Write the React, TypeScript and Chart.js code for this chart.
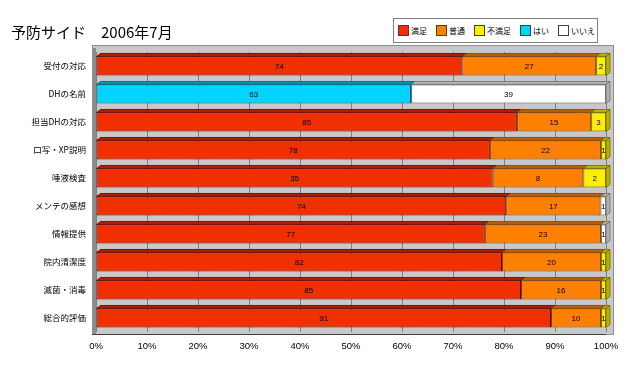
import React, { useEffect, useRef } from "react";
import { Chart, registerables } from "chart.js";

Chart.register(...registerables);

const categories = [
  "受付の対応",
  "DHの名前",
  "担当DHの対応",
  "口写・XP説明",
  "唾液検査",
  "メンテの感想",
  "情報提供",
  "院内清潔度",
  "滅菌・消毒",
  "総合的評価",
];

const seriesNames = ["満足", "普通", "不満足", "はい", "いいえ"];
const manzoku = [74, 0, 85, 78, 35, 74, 77, 82, 85, 91];
const futsuu = [27, 0, 15, 22, 8, 17, 23, 20, 16, 10];
const fumanzoku = [2, 0, 3, 1, 2, 0, 0, 1, 1, 1];
const hai = [0, 63, 0, 0, 0, 0, 0, 0, 0, 0];
const iie = [0, 39, 0, 0, 0, 1, 1, 0, 0, 0];
const xTicks = [0, 10, 20, 30, 40, 50, 60, 70, 80, 90, 100];

const seriesValues = [manzoku, futsuu, fumanzoku, hai, iie];
const frontColors = ["#f03000", "#ff8000", "#ffee00", "#00d4ff", "#ffffff"];
const topColors = ["#a82000", "#c05c00", "#b8b000", "#0090b0", "#b0b0b0"];
const edgeColors = ["#600000", "#804000", "#707000", "#006080", "#707070"];

const LABEL_FONT = "'Liberation Sans', 'Noto Sans CJK JP', sans-serif";
const CJK_FONT = "'Noto Sans CJK JP', 'Liberation Sans', sans-serif";

const DX = 4;
const DY = 3;

const depthPlugin = {
  id: "depth3d",
  beforeDraw(chart: any) {
    const { ctx, chartArea } = chart;
    const { left, right, top, bottom } = chartArea;
    ctx.save();
    ctx.fillStyle = "#c8c8c8";
    ctx.fillRect(left - 3, top - 6, right - left + DX + 7, bottom - top + 9);
    ctx.fillStyle = "#8c8c8c";
    ctx.fillRect(left - 4, top - 4, 4, bottom - top + 7);
    ctx.strokeStyle = "#909090";
    ctx.lineWidth = 1;
    ctx.strokeRect(left - 3.5, top - 6.5, right - left + DX + 7, bottom - top + 9);
    ctx.strokeStyle = "#404040";
    ctx.beginPath();
    ctx.moveTo(left - 4, bottom + 2.5);
    ctx.lineTo(right, bottom + 2.5);
    ctx.stroke();
    ctx.restore();
  },
  beforeDatasetsDraw(chart: any) {
    const { ctx } = chart;
    const metas = chart.data.datasets.map((_: any, i: number) => chart.getDatasetMeta(i));
    ctx.save();
    ctx.lineWidth = 0.8;
    for (let c = 0; c < categories.length; c++) {
      let last: any = null;
      let lastIdx = -1;
      metas.forEach((meta: any, d: number) => {
        const el = meta.data[c];
        if (!el || seriesValues[d][c] <= 0) return;
        const t = el.y - el.height / 2;
        const x0 = Math.min(el.base, el.x);
        const x1 = Math.max(el.base, el.x);
        ctx.fillStyle = topColors[d];
        ctx.strokeStyle = edgeColors[d];
        ctx.beginPath();
        ctx.moveTo(x0, t);
        ctx.lineTo(x0 + DX, t - DY);
        ctx.lineTo(x1 + DX, t - DY);
        ctx.lineTo(x1, t);
        ctx.closePath();
        ctx.fill();
        ctx.stroke();
        last = el;
        lastIdx = d;
      });
      if (last) {
        const t = last.y - last.height / 2;
        const b = last.y + last.height / 2;
        const x1 = Math.max(last.base, last.x);
        ctx.fillStyle = topColors[lastIdx];
        ctx.strokeStyle = edgeColors[lastIdx];
        ctx.beginPath();
        ctx.moveTo(x1, t);
        ctx.lineTo(x1 + DX, t - DY);
        ctx.lineTo(x1 + DX, b - DY);
        ctx.lineTo(x1, b);
        ctx.closePath();
        ctx.fill();
        ctx.stroke();
      }
    }
    ctx.restore();
  },
  afterDatasetsDraw(chart: any) {
    const { ctx } = chart;
    ctx.save();
    ctx.fillStyle = "#000";
    ctx.font = `8px ${LABEL_FONT}`;
    ctx.textAlign = "center";
    ctx.textBaseline = "middle";
    chart.data.datasets.forEach((_: any, d: number) => {
      const meta = chart.getDatasetMeta(d);
      meta.data.forEach((el: any, c: number) => {
        const v = seriesValues[d][c];
        if (v <= 0) return;
        ctx.fillText(String(v), (el.x + el.base) / 2, el.y + 0.5);
      });
    });
    ctx.restore();
  },
};

export default function App() {
  const canvasRef = useRef<HTMLCanvasElement | null>(null);

  useEffect(() => {
    if (!canvasRef.current) return;
    const totals = categories.map((_, c) =>
      seriesValues.reduce((s, arr) => s + arr[c], 0)
    );
    const datasets = seriesNames.map((name, d) => ({
      label: name,
      data: seriesValues[d].map((v, c) => (v / totals[c]) * 100),
      backgroundColor: frontColors[d],
      borderColor: edgeColors[d],
      borderWidth: 1,
      borderSkipped: false,
      barPercentage: 0.68,
      categoryPercentage: 1,
    }));
    const chart = new Chart(canvasRef.current, {
      type: "bar",
      data: { labels: categories, datasets },
      options: {
        indexAxis: "y",
        animation: false,
        responsive: false,
        maintainAspectRatio: false,
        layout: { padding: { top: 52, right: 34, bottom: 0, left: 0 } },
        plugins: {
          legend: { display: false },
          title: { display: false },
          tooltip: { enabled: false },
        },
        scales: {
          x: {
            stacked: true,
            min: 0,
            max: 100,
            afterBuildTicks(scale: any) {
              scale.ticks = xTicks.map((v) => ({ value: v }));
            },
            afterFit(scale: any) {
              scale.height = 33;
            },
            ticks: {
              callback: (v: any) => `${v}%`,
              color: "#000",
              font: { size: 9.5, family: LABEL_FONT },
              padding: 9,
              maxRotation: 0,
              autoSkip: false,
            },
            grid: {
              color: "#808080",
              drawTicks: false,
            },
            border: { display: false },
          },
          y: {
            stacked: true,
            afterFit(scale: any) {
              scale.width = 96;
            },
            ticks: {
              color: "#000",
              font: { size: 8.5, family: CJK_FONT },
              padding: 10,
            },
            grid: { display: false, drawTicks: false },
            border: { display: false },
          },
        },
      },
      plugins: [depthPlugin],
    });
    return () => chart.destroy();
  }, []);

  return (
    <div
      style={{
        position: "fixed",
        left: 0,
        top: 0,
        width: 640,
        height: 365,
        background: "#fff",
        overflow: "hidden",
      }}
    >
      <canvas ref={canvasRef} width={640} height={365} style={{ display: "block" }} />
      <div
        style={{
          position: "absolute",
          left: 11,
          top: 22,
          fontFamily: CJK_FONT,
          fontSize: 15,
          lineHeight: "20px",
          color: "#000",
          whiteSpace: "pre",
        }}
      >
        予防サイド　2006年7月
      </div>
      <div
        style={{
          position: "absolute",
          left: 393,
          top: 18,
          width: 205,
          height: 25,
          boxSizing: "border-box",
          border: "1px solid #808080",
          background: "#fff",
          display: "flex",
          alignItems: "center",
          paddingLeft: 4,
          fontFamily: CJK_FONT,
          fontSize: 8,
          lineHeight: "10px",
          color: "#000",
          whiteSpace: "nowrap",
        }}
      >
        {seriesNames.map((name, d) => (
          <div
            key={name}
            style={{
              display: "flex",
              alignItems: "center",
              marginRight: 9,
              flexShrink: 0,
              whiteSpace: "nowrap",
            }}
          >
            <span
              style={{
                display: "inline-block",
                width: 9,
                height: 9,
                background: frontColors[d],
                border: "1px solid #404040",
                marginRight: 2,
                flexShrink: 0,
              }}
            />
            <span style={{ whiteSpace: "nowrap" }}>{name}</span>
          </div>
        ))}
      </div>
    </div>
  );
}
